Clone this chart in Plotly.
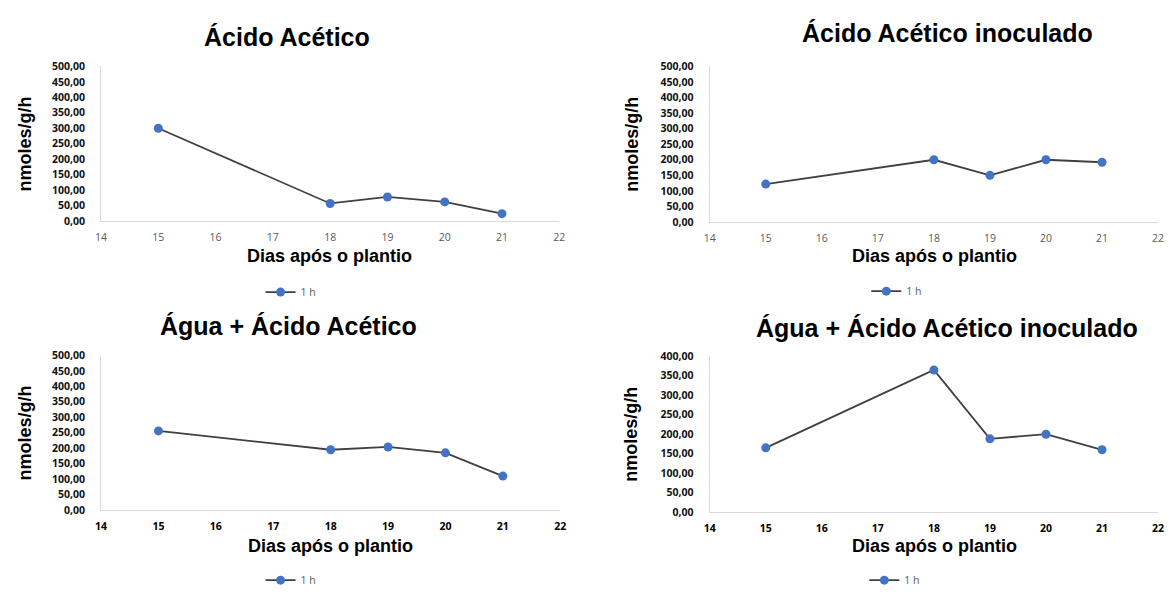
import plotly.graph_objects as go

# Sampling days and activity (nmoles/g/h) for the four treatments
dias = [15, 18, 19, 20, 21]
acido_acetico = [300, 57, 78, 62, 24]
acido_acetico_inoculado = [122, 200, 150, 200, 192]
agua_acido_acetico = [256, 195, 204, 185, 110]
agua_acido_acetico_inoculado = [165, 365, 188, 200, 160]

titulos = [
    "Ácido Acético",
    "Ácido Acético inoculado",
    "Água + Ácido Acético",
    "Água + Ácido Acético inoculado",
]
series = [acido_acetico, acido_acetico_inoculado,
          agua_acido_acetico, agua_acido_acetico_inoculado]
y_max = [500, 500, 500, 400]
x_ticks = list(range(14, 23))

W, H = 1171, 595
# plot areas in pixels: (left, right, top, bottom)
areas = [
    (96, 559, 61, 220),
    (711, 1164, 61, 221),
    (96, 560, 358, 517),
    (711, 1164, 359, 519),
]
title_pos = [(284, 31), (951, 27), (285, 328), (951, 330)]
xtitle_pos = [(327, 256), (938, 256), (328, 554), (938, 554)]
ytitle_x = [19, 633, 19, 632]
legend_pos = [(288, 293), (900, 292), (288, 589), (898, 589)]
bold_xticks = [False, False, True, True]

fig = go.Figure()
layout = dict(
    width=W, height=H,
    margin=dict(l=0, r=0, t=0, b=0),
    paper_bgcolor="white", plot_bgcolor="white",
    showlegend=True,
    annotations=[],
)

tick_font = "'Open Sans', sans-serif"
title_font = "'Liberation Sans', Arial, sans-serif"

for i in range(4):
    n = "" if i == 0 else str(i + 1)
    left, right, top, bottom = areas[i]
    dx = [left / W, right / W]
    dy = [1 - bottom / H, 1 - top / H]
    leg = "legend" if i == 0 else f"legend{i + 1}"
    fig.add_trace(go.Scatter(
        x=dias, y=series[i], mode="lines+markers", name="1 h",
        line=dict(color="#404040", width=1.8),
        marker=dict(color="#4472C4", size=9),
        xaxis="x" + n, yaxis="y" + n, legend=leg, showlegend=True,
    ))
    layout["xaxis" + n] = dict(
        domain=dx, anchor="y" + n, range=[14, 22],
        tickmode="array", tickvals=x_ticks,
        ticktext=[f"<b>{t}</b>" if bold_xticks[i] else str(t) for t in x_ticks],
        showgrid=False, zeroline=False,
        showline=True, linecolor="#d9d9d9", linewidth=1,
        ticks="outside", ticklen=6, tickcolor="rgba(0,0,0,0)",
        tickfont=dict(family=tick_font, size=10.5,
                      color="#000000" if bold_xticks[i] else "#595959"),
    )
    yv = list(range(0, y_max[i] + 1, 50))
    layout["yaxis" + n] = dict(
        domain=dy, anchor="x" + n, range=[0, y_max[i]],
        tickmode="array", tickvals=yv,
        ticktext=[f"<b>{v},00</b>" for v in yv],
        showgrid=False, zeroline=False,
        showline=True, linecolor="#d9d9d9", linewidth=1,
        ticks="outside", ticklen=13, tickcolor="rgba(0,0,0,0)",
        tickfont=dict(family=tick_font, size=10.5, color="#111111"),
    )
    layout[leg] = dict(
        x=legend_pos[i][0] / W, y=1 - legend_pos[i][1] / H,
        xanchor="center", yanchor="middle", orientation="h",
        bgcolor="rgba(0,0,0,0)", itemwidth=30,
        font=dict(family=tick_font, size=10.5, color="#595959"),
    )
    layout["annotations"] += [
        dict(text=f"<b>{titulos[i]}</b>", xref="paper", yref="paper",
             x=title_pos[i][0] / W, y=1 - title_pos[i][1] / H,
             xanchor="center", yanchor="middle", showarrow=False,
             font=dict(family=title_font, size=25, color="#000000")),
        dict(text="<b>Dias após o plantio</b>", xref="paper", yref="paper",
             x=xtitle_pos[i][0] / W, y=1 - xtitle_pos[i][1] / H,
             xanchor="center", yanchor="middle", showarrow=False,
             font=dict(family=title_font, size=18, color="#000000")),
        dict(text="<b>nmoles/g/h</b>", xref="paper", yref="paper",
             x=ytitle_x[i] / W, y=(dy[0] + dy[1]) / 2,
             xanchor="center", yanchor="middle", showarrow=False,
             textangle=-90,
             font=dict(family=title_font, size=18, color="#000000")),
    ]

fig.update_layout(**layout)
fig.write_html("out.html")
